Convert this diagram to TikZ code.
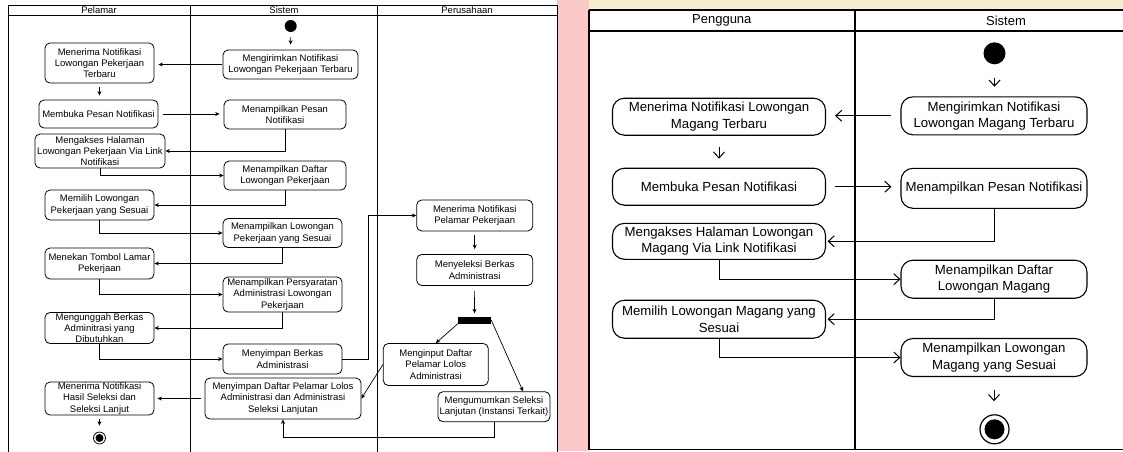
\documentclass[tikz,border=0pt]{standalone}
\usepackage{fontspec}
\setmainfont{Liberation Sans}
\usepackage{xcolor}
\usepackage{tikz}
\usetikzlibrary{positioning, shapes, arrows, calc, arrows.meta, backgrounds}

\definecolor{bgpink}{RGB}{252,201,201}
\definecolor{bgcream}{RGB}{246,236,210}

\begin{document}
\begin{tikzpicture}[x=1pt, y=-1pt,
    act/.style={draw, rectangle, rounded corners=5pt, align=center, inner sep=0pt, line width=0.8pt, font=\fontsize{9.5}{11.4}\selectfont},
    actm/.style={draw, rectangle, rounded corners=12pt, align=center, inner sep=0pt, line width=1.1pt, font=\fontsize{13.2}{16.4}\selectfont},
    lane/.style={font=\fontsize{9.5}{11.4}\selectfont},
    lanem/.style={font=\fontsize{13}{15.6}\selectfont},
    flow/.style={-{Stealth[length=4.5pt,width=4pt]}, line width=0.7pt},
    flowm/.style={-{Straight Barb[length=6pt,width=11pt]}, line width=1pt}]
        \useasboundingbox (0,0) rectangle (1123,451);
        \fill[white] (0,0) rectangle (1123,451);
        \fill[bgpink] (557,0) rectangle (589,451);
        \fill[bgcream] (589,0) rectangle (1123,9);

        % left diagram: swimlanes
        \draw[line width=0.8pt] (8,5) rectangle (557,460);
        \draw[line width=0.8pt] (8,15) -- (557,15);
        \draw[line width=0.8pt] (190.5,5) -- (190.5,460);
        \draw[line width=0.8pt] (377,5) -- (377,460);
        \node[lane] (hPelamar) at (99,10.5) {Pelamar};
        \node[lane] (hSistem) at (284,10.5) {Sistem};
        \node[lane] (hPerusahaan) at (467,10.5) {Perusahaan};

        \node[circle, fill, inner sep=0pt, minimum size=12pt] (lStart) at (290.7,26) {};
        \node[act, minimum width=135pt, minimum height=29pt] (lKirim) at (290.5,64.5) {Mengirimkan Notifikasi\\Lowongan Pekerjaan Terbaru};
        \node[act, minimum width=109pt, minimum height=40pt] (lTerima) at (99.5,63) {Menerima Notifikasi\\Lowongan Pekerjaan\\Terbaru};
        \node[act, minimum width=119pt, minimum height=28pt] (lBuka) at (98.5,114) {Membuka Pesan Notifikasi};
        \node[act, minimum width=122pt, minimum height=29pt] (lPesan) at (285,114.5) {Menampilkan Pesan\\Notifikasi};
        \node[act, minimum width=130pt, minimum height=34pt] (lAkses) at (100,151) {Mengakses Halaman\\Lowongan Pekerjaan Via Link\\Notifikasi};
        \node[act, minimum width=122pt, minimum height=29pt] (lDaftar) at (285,175.5) {Menampilkan Daftar\\Lowongan Pekerjaan};
        \node[act, minimum width=109pt, minimum height=30pt] (lPilih) at (99.5,205) {Memilih Lowongan\\Pekerjaan yang Sesuai};
        \node[act, minimum width=119pt, minimum height=29pt] (lSesuai) at (282.5,233) {Menampilkan Lowongan\\Pekerjaan yang Sesuai};
        \node[act, minimum width=109pt, minimum height=31pt] (lLamar) at (99.5,263.5) {Menekan Tombol Lamar\\Pekerjaan};
        \node[act, minimum width=119pt, minimum height=35pt] (lSyarat) at (282.5,294.5) {Menampilkan Persyaratan\\Administrasi Lowongan\\Pekerjaan};
        \node[act, minimum width=109pt, minimum height=31pt] (lUnggah) at (99.5,328) {Mengunggah Berkas\\Adminitrasi yang\\Dibutuhkan};
        \node[act, minimum width=119pt, minimum height=30pt] (lSimpan) at (282.5,359) {Menyimpan Berkas\\Administrasi};
        \node[act, minimum width=116pt, minimum height=31pt] (lPelamar) at (474.7,215.5) {Menerima Notifikasi\\Pelamar Pekerjaan};
        \node[act, minimum width=116pt, minimum height=31pt] (lSeleksi) at (474.7,270) {Menyeleksi Berkas\\Administrasi};
        \node[rectangle, fill, inner sep=0pt, minimum width=33pt, minimum height=7pt] (lFork) at (474.5,320) {};
        \node[act, minimum width=105pt, minimum height=42pt] (lInput) at (435.8,364.5) {Menginput Daftar\\Pelamar Lolos\\Administrasi};
        \node[act, minimum width=112pt, minimum height=30pt] (lUmum) at (494,406.7) {Mengumumkan Seleksi\\Lanjutan (Instansi Terkait)};
        \node[act, minimum width=156pt, minimum height=41pt] (lLolos) at (283,398.5) {Menyimpan Daftar Pelamar Lolos\\Administrasi dan Administrasi\\Seleksi Lanjutan};
        \node[act, minimum width=109pt, minimum height=33pt] (lHasil) at (99.5,398.5) {Menerima Notifikasi\\Hasil Seleksi dan\\Seleksi Lanjut};
        \node[circle, draw, line width=0.8pt, inner sep=0pt, minimum size=12pt] (lEnd) at (99.5,438) {};
        \fill (lEnd.center) circle (4pt);

        \draw[flow, shorten <=5pt, shorten >=5pt] (lStart) -- (lKirim);
        \draw[flow, shorten <=1pt, shorten >=4pt] (lKirim.west) -- (lKirim.west -| lTerima.east);
        \draw[flow, shorten <=4pt, shorten >=4pt] (lTerima.south) -- (lTerima.south |- lBuka.north);
        \draw[flow, shorten <=5pt, shorten >=4pt] (lBuka.east) -- (lBuka.east -| lPesan.west);
        \draw[flow] (lPesan.south) |- (lAkses.east);
        \draw[flow] (lAkses.south) |- (lDaftar.west);
        \draw[flow] (lDaftar.south) |- (lPilih.east);
        \draw[flow] (lPilih.south) |- (lSesuai.west);
        \draw[flow] (lSesuai.south) |- (lLamar.east);
        \draw[flow] (lLamar.south) |- (lSyarat.west);
        \draw[flow] (lSyarat.south) |- (lUnggah.east);
        \draw[flow] (lUnggah.south) |- (lSimpan.west);
        \draw[flow] (lSimpan.east) -- ++(26,0) |- (lPelamar.west);
        \draw[flow, shorten <=4pt, shorten >=5pt] (lPelamar) -- (lSeleksi);
        \draw[flow, shorten <=5pt, shorten >=3pt] (lSeleksi) -- (lFork);
        \draw[flow] (lFork.south west) -- (lInput.north);
        \draw[flow] (lFork.east) -- ([xshift=29pt]lUmum.north);
        \draw[flow] (lInput.west) -- (lLolos.east);
        \draw[flow] (lUmum.south) -- ++(0,15) -| (lLolos.south);
        \draw[flow, shorten <=4pt, shorten >=3pt] (lLolos.west) -- (lLolos.west -| lHasil.east);
        \draw[flow, shorten <=4pt, shorten >=6pt] (lHasil) -- (lEnd);

        % right diagram: swimlanes
        \draw[line width=1.6pt] (588.7,10) -- (1130,10);
        \draw[line width=1.6pt] (588.7,31) -- (1130,31);
        \draw[line width=1.6pt] (1130,449.5) -- (588.7,449.5) -- (588.7,10);
        \draw[line width=1.6pt] (855,10) -- (855,449.5);
        \node[lanem] (hPengguna) at (721.8,20.5) {Pengguna};
        \node[lanem] (hSistemR) at (1006,20.5) {Sistem};

        \node[circle, fill, inner sep=0pt, minimum size=22pt] (rStart) at (994.5,53.3) {};
        \node[actm, minimum width=186pt, minimum height=38pt] (rKirim) at (994,115.8) {Mengirimkan Notifikasi\\Lowongan Magang Terbaru};
        \node[actm, minimum width=213pt, minimum height=37pt] (rTerima) at (719,116.7) {Menerima Notifikasi Lowongan\\Magang Terbaru};
        \node[actm, minimum width=213pt, minimum height=37pt] (rBuka) at (719,186.7) {Membuka Pesan Notifikasi};
        \node[actm, minimum width=186pt, minimum height=40pt] (rPesan) at (994,188.3) {Menampilkan Pesan Notifikasi};
        \node[actm, minimum width=213pt, minimum height=36pt] (rAkses) at (719,241.3) {Mengakses Halaman Lowongan\\Magang Via Link Notifikasi};
        \node[actm, minimum width=186pt, minimum height=38pt] (rDaftar) at (994,279.2) {Menampilkan Daftar\\Lowongan Magang};
        \node[actm, minimum width=213pt, minimum height=38pt] (rPilih) at (719,319.2) {Memilih Lowongan Magang yang\\Sesuai};
        \node[actm, minimum width=186pt, minimum height=38pt] (rSesuai) at (994,357.5) {Menampilkan Lowongan\\Magang yang Sesuai};
        \node[circle, draw, line width=1.2pt, inner sep=0pt, minimum size=29pt] (rEnd) at (994.5,429.3) {};
        \fill (rEnd.center) circle (10pt);

        \draw[flowm, shorten <=13.5pt, shorten >=9.5pt] (rStart.south) -- (rStart.south |- rKirim.north);
        \draw[flowm, shorten <=9pt, shorten >=9pt] (rKirim.west) -- (rKirim.west -| rTerima.east);
        \draw[flowm, shorten <=11.5pt, shorten >=9pt] (rTerima) -- (rBuka);
        \draw[flowm, shorten <=9pt, shorten >=9pt] (rBuka.east) -- (rBuka.east -| rPesan.west);
        \draw[flowm, shorten >=1.5pt] (rPesan.south) |- (rAkses.east);
        \draw[flowm] (rAkses.south) |- (rDaftar.west);
        \draw[flowm, shorten >=1.5pt] (rDaftar.south) |- (rPilih.east);
        \draw[flowm] (rPilih.south) |- (rSesuai.west);
        \draw[flowm, shorten <=13pt, shorten >=13pt] (rSesuai.south) -- (rSesuai.south |- rEnd.north);
      \end{tikzpicture}
\end{document}
